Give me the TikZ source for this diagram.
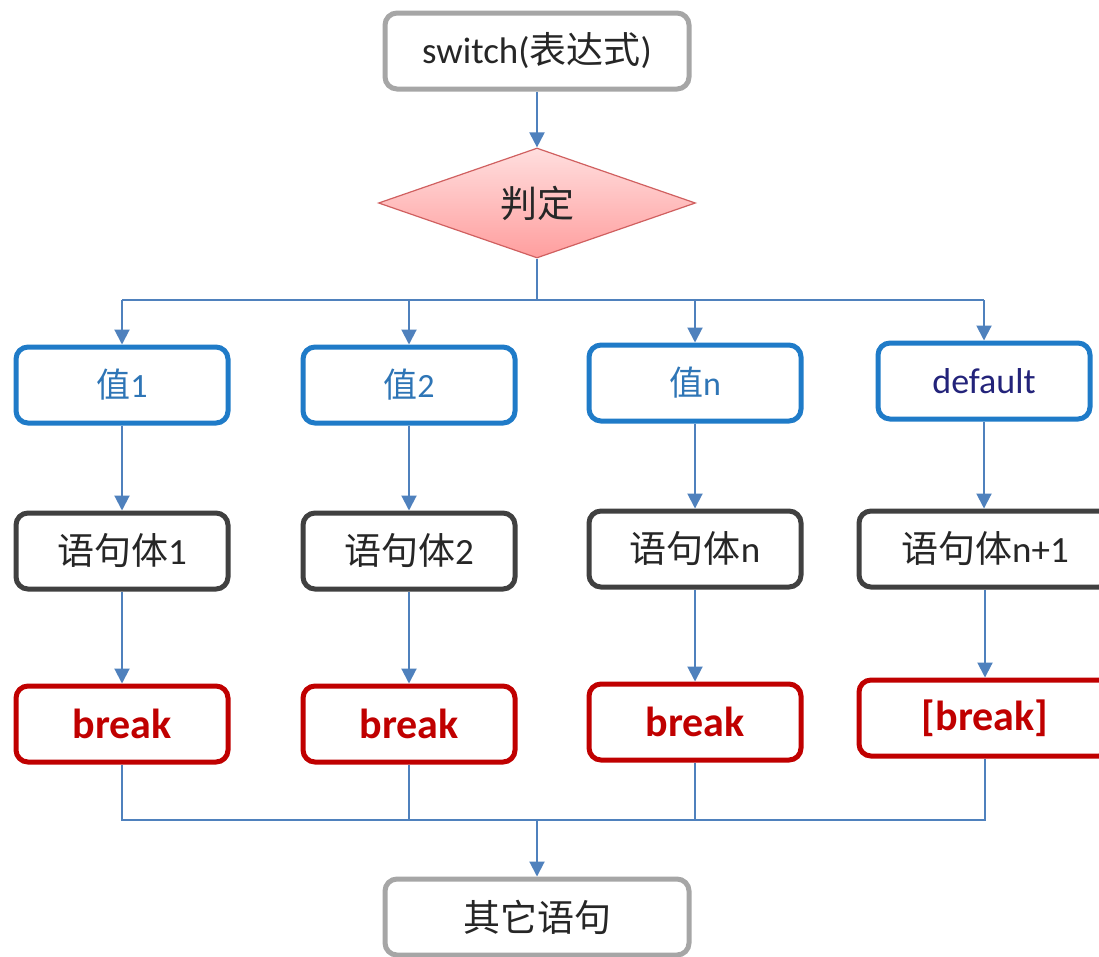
\documentclass[tikz,border=0pt]{standalone}
\usepackage{fontspec}
\setmainfont{Carlito}
\newfontfamily\cjk{Noto Sans CJK SC}
\usetikzlibrary{arrows.meta,shapes.geometric}
\definecolor{grayb}{HTML}{A6A6A6}
\definecolor{blueb}{HTML}{1F7BC8}
\definecolor{bluet}{HTML}{2E75B6}
\definecolor{navyt}{HTML}{23237A}
\definecolor{darkb}{HTML}{404040}
\definecolor{redb}{HTML}{C00000}
\definecolor{conn}{HTML}{4F81BD}
\definecolor{diab}{HTML}{D06060}
\definecolor{diatop}{HTML}{FFDEDE}
\definecolor{diabot}{HTML}{FF9E9E}
\definecolor{txt}{HTML}{262626}
\tikzset{
  box/.style={draw, rounded corners=12pt, line width=5pt, fill=white,
    minimum height=76pt, inner sep=0pt, font=\fontsize{37}{39}\selectfont, text=txt},
  graybox/.style={box, draw=grayb, minimum width=304pt},
  valbox/.style={box, draw=blueb, minimum width=212pt, text=bluet, font=\fontsize{34}{36}\selectfont},
  stmtbox/.style={box, draw=darkb, minimum width=212pt},
  brkbox/.style={box, draw=redb, minimum width=212pt, text=redb, font=\fontsize{42}{44}\selectfont\bfseries},
  link/.style={draw=conn, line width=2pt},
  arr/.style={link, -{Triangle[width=15pt,length=15pt]}},
}
\begin{document}
\begin{tikzpicture}[x=1pt,y=-1pt]
\useasboundingbox (0,0) rectangle (1099,956);
\clip (0,0) rectangle (1099,956);
\fill[white] (0,0) rectangle (1099,956);

\node[graybox] (sw) at (537,51) {switch({\cjk 表达式})};
\node[diamond, draw=diab, line width=1.2pt, top color=diatop, bottom color=diabot,
  minimum width=317pt, minimum height=110pt, inner sep=0pt, aspect=2.88,
  font=\fontsize{37}{39}\selectfont\cjk, text=txt] (dia) at (537,203) {判定};

\node[valbox] (v1) at (122,385) {{\cjk 值}1};
\node[valbox] (v2) at (409,385) {{\cjk 值}2};
\node[valbox] (vn) at (695,383) {{\cjk 值}n};
\node[valbox, text=navyt, font=\fontsize{36}{38}\selectfont] (vd) at (984,381) {default};

\node[stmtbox] (s1) at (122,551) {{\cjk 语句体}1};
\node[stmtbox] (s2) at (409,551) {{\cjk 语句体}2};
\node[stmtbox] (sn) at (695,549) {{\cjk 语句体}n};
\node[stmtbox, minimum width=252pt] (sd) at (985,549) {{\cjk 语句体}n+1};

\node[brkbox] (b1) at (122,724) {break};
\node[brkbox] (b2) at (409,724) {break};
\node[brkbox] (bn) at (695,722) {break};
\node[brkbox, minimum width=252pt] (bd) at (985,718) {[break]};

\node[graybox] (other) at (537,917) {\cjk 其它语句};

\coordinate (split) at (537,300);
\coordinate (join) at (537,820);

\draw[arr] (sw.south) -- (dia.north);
\draw[link] (dia.south) -- (split);
\draw[link] (v1.north |- split) -- (vd.north |- split);
\foreach \v in {v1,v2,vn,vd} {
  \draw[arr] (\v.north |- split) -- (\v.north);
}
\draw[arr] (v1) -- (s1);
\draw[arr] (v2) -- (s2);
\draw[arr] (vn) -- (sn);
\draw[arr] (vd.south) -- (vd.south |- sd.north);
\draw[arr] (s1) -- (b1);
\draw[arr] (s2) -- (b2);
\draw[arr] (sn) -- (bn);
\draw[arr] (sd) -- (bd);
\draw[link] (b1.south) -- (b1.south |- join) -- (bd.south |- join) -- (bd.south);
\draw[link] (b2.south) -- (b2.south |- join);
\draw[link] (bn.south) -- (bn.south |- join);
\draw[arr] (join) -- (other.north);
\end{tikzpicture}
\end{document}
